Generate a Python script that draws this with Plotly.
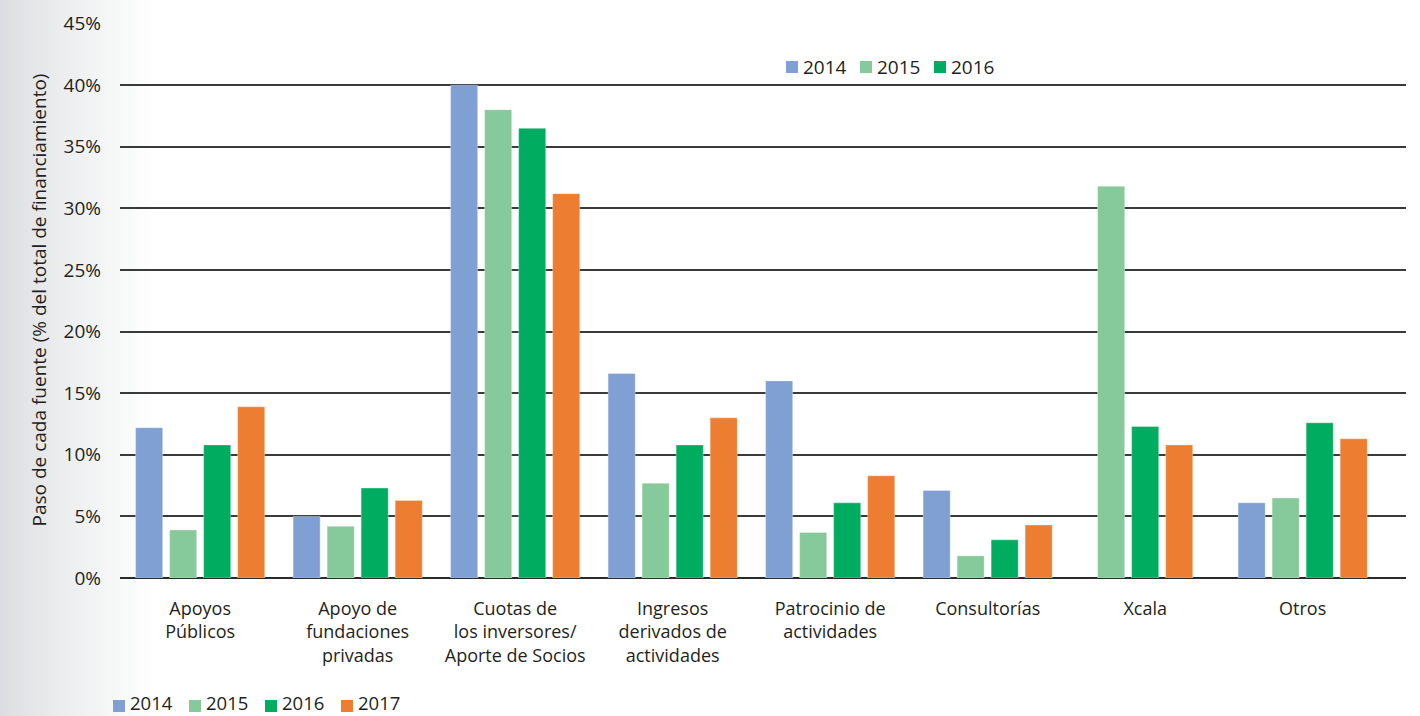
import plotly.graph_objects as go

# Funding sources (x categories) and their share per year
categories = [
    "Apoyos<br>Públicos",
    "Apoyo de<br>fundaciones<br>privadas",
    "Cuotas de<br>los inversores/<br>Aporte de Socios",
    "Ingresos<br>derivados de<br>actividades",
    "Patrocinio de<br>actividades",
    "Consultorías",
    "Xcala",
    "Otros",
]
years = ["2014", "2015", "2016", "2017"]
v2014 = [12.2, 5.0, 40.0, 16.6, 16.0, 7.1, None, 6.1]
v2015 = [3.9, 4.2, 38.0, 7.7, 3.7, 1.8, 31.8, 6.5]
v2016 = [10.8, 7.3, 36.5, 10.8, 6.1, 3.1, 12.3, 12.6]
v2017 = [13.9, 6.3, 31.2, 13.0, 8.3, 4.3, 10.8, 11.3]
series = [v2014, v2015, v2016, v2017]
colors = ["#809fd3", "#86c99b", "#00ad60", "#ed7d31"]
y_ticks = [0, 5, 10, 15, 20, 25, 30, 35, 40, 45]
y_ticktext = [f"{t}%" for t in y_ticks]

# Years shown in the two keys
top_key_years = ["2014", "2015", "2016"]
bottom_key_years = years

W, H = 1420, 716
ML, MR, MT, MB = 120, 14, 23, 138
PW, PH = W - ML - MR, H - MT - MB
FONT = "Open Sans"
TXT = "#231f20"

BAR_W = 0.172     # bar width in category units
SLOT = 0.216      # bar width + gap between bars of a group

fig = go.Figure()

# Bars of a category are centred on the category, skipping missing years
for s, (yr, vals, col) in enumerate(zip(years, series, colors)):
    xs, ys = [], []
    for i, v in enumerate(vals):
        if v is None:
            continue
        present = [k for k in range(len(series)) if series[k][i] is not None]
        n = len(present)
        k = present.index(s)
        xs.append(i + (k - (n - 1) / 2) * SLOT)
        ys.append(v)
    fig.add_trace(go.Bar(
        x=xs, y=ys, width=BAR_W, name=yr,
        marker=dict(color=col, line=dict(width=0.6, color="rgba(255,255,255,0.55)")),
        showlegend=False,
    ))

shapes = []
annotations = []

# Soft grey shading along the left edge of the page
steps = 40
for j in range(steps):
    x0 = j * 4
    t = j / (steps - 1)
    g = int(220 + (255 - 220) * t ** 0.8)
    b = int(224 + (255 - 224) * t ** 0.8)
    shapes.append(dict(
        type="rect", xref="paper", yref="paper", layer="below",
        x0=(x0 - ML) / PW, x1=(x0 + 4 - ML) / PW,
        y0=-MB / PH, y1=1 + MT / PH,
        fillcolor=f"rgb({g},{g+1 if g < 255 else 255},{b})", line=dict(width=0),
    ))


def add_key(key_years, x_start_px, sq_center_px, text_center_px, step, size):
    x = x_start_px
    for yr in key_years:
        col = colors[years.index(yr)]
        shapes.append(dict(
            type="rect", xref="paper", yref="paper",
            x0=(x - ML) / PW, x1=(x + 12 - ML) / PW,
            y0=(H - MB - (sq_center_px + 6)) / PH, y1=(H - MB - (sq_center_px - 6)) / PH,
            fillcolor=col, line=dict(width=0),
        ))
        annotations.append(dict(
            text=yr, xref="paper", yref="paper",
            x=(x + 16 - ML) / PW, y=(H - MB - text_center_px) / PH,
            xanchor="left", yanchor="middle", showarrow=False, borderpad=0,
            font=dict(family=FONT, size=size, color=TXT),
        ))
        x += step


add_key(top_key_years, 786, 67, 67, 74, 19)
add_key(bottom_key_years, 113, 706, 702, 76, 18.5)

# Rotated y-axis title
annotations.append(dict(
    text="Paso de cada fuente (% del total de financiamiento)",
    xref="paper", yref="paper", x=(38 - ML) / PW, y=0.5,
    xanchor="center", yanchor="middle", textangle=-90, showarrow=False,
    font=dict(family=FONT, size=19, color=TXT),
))

fig.update_layout(
    width=W, height=H,
    margin=dict(l=ML, r=MR, t=MT, b=MB, autoexpand=False),
    paper_bgcolor="white", plot_bgcolor="rgba(0,0,0,0)",
    barmode="overlay",
    shapes=shapes, annotations=annotations,
    font=dict(family=FONT, size=18, color=TXT),
    xaxis=dict(
        range=[-0.509, 7.656],
        tickmode="array", tickvals=list(range(len(categories))), ticktext=categories,
        showgrid=False, zeroline=False, showline=False, ticks="",
        ticklabelstandoff=18,
        tickfont=dict(family=FONT, size=18, color=TXT),
        fixedrange=True,
    ),
    yaxis=dict(
        range=[0, 45.05],
        tickmode="array", tickvals=y_ticks, ticktext=y_ticktext,
        showgrid=True, gridcolor="#3a3a3a", gridwidth=1.6,
        zeroline=True, zerolinecolor="#2a2a2a", zerolinewidth=1.6,
        showline=False, ticks="", ticklabelstandoff=18,
        tickfont=dict(family=FONT, size=19, color=TXT),
        fixedrange=True,
    ),
)

fig.write_html("out.html")
